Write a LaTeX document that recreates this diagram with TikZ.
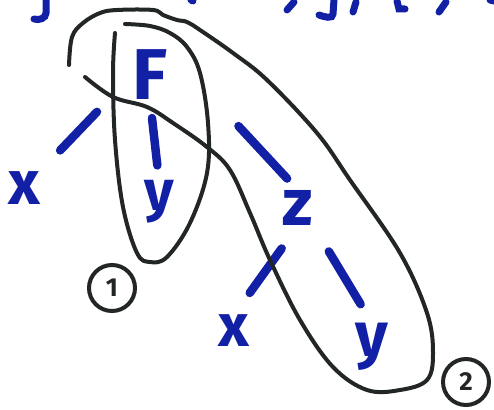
\documentclass[tikz,border=0pt]{standalone}
\usepackage{fontspec}
\setmainfont{Fira Sans}
\usepackage{xcolor}
\usepackage{tikz}
\usetikzlibrary{arrows.meta, positioning}
\definecolor{penblue}{RGB}{18,32,165}
\definecolor{inkblack}{RGB}{35,38,38}

\begin{document}
\begin{tikzpicture}[
  x=1pt, y=-1pt,
  letter/.style={text=penblue, inner sep=0pt, font=\bfseries\fontsize{#1}{#1}\selectfont},
  twig/.style={penblue, line width=8.5pt, line cap=round},
  scrap/.style={penblue, line width=7pt, line cap=round},
  lasso/.style={inkblack, line width=4pt, line cap=round, line join=round},
  tag/.style={draw=inkblack, circle, line width=4pt, minimum size=46pt, inner sep=0pt,
    text=inkblack, font=\bfseries\fontsize{26}{26}\selectfont}
]
\useasboundingbox (0,0) rectangle (494,409);

% tree
\node[letter=72] (F) at (150,75) {F};
\node[letter=57] (y1) at (159,202) {y};
\node[letter=62] (x1) at (24,188) {x};
\node[letter=66] (z) at (298,208) {z};
\node[letter=60] (x2) at (234,331) {x};
\node[letter=63] (y2) at (372,347) {y};

\draw[twig, shorten <=18pt, shorten >=15pt] (F.south) -- (y1.north);
\draw[twig, shorten <=51pt, shorten >=29pt] (F.west) -- (x1.north east);
\draw[twig, shorten <=104pt, shorten >=16pt] (F.north east) -- (z.north);
\draw[twig, shorten <=28pt, shorten >=27pt] (z.south) -- (x2.north);
\draw[twig, shorten <=30pt, shorten >=22pt] (z.south east) -- (y2.north);

% loops round the two parts
\draw[lasso] plot[smooth, tension=0.6] coordinates {(115,33) (113,73) (115,140) (123,207)
  (137,253) (150,262) (167,257) (190,223) (207,173) (208,123) (200,73) (187,47)
  (170,33) (150,26) (125,24)};
\draw[lasso] plot[smooth, tension=0.6] coordinates {(69,65) (72,37) (83,23) (100,13)
  (117,10) (153,10) (163,15) (177,20) (187,22) (200,30) (233,53) (267,80) (317,133)
  (350,180) (400,253) (427,313) (433,353) (427,380) (400,390) (367,390) (333,367)
  (300,320) (270,260) (250,213) (230,170) (207,147) (173,123) (147,107) (113,97) (85,77)};

\node[tag] (one) at (112,288) {1};
\node[tag] (two) at (466,382) {2};

% bits of the line above
\draw[scrap] (46,0) -- (46,13) to[out=-90, in=-20] (34,19);
\draw[scrap] (191,0) -- (193,1);
\draw[scrap] (294,2) -- (287,10);
\draw[scrap] (334,0) -- (333,14) to[out=-90, in=-20] (319,15);
\draw[scrap] (356,2) -- (353,12);
\draw[scrap] (397,1) -- (399,9) -- (405,9);
\draw[scrap] (446,2) -- (439,12);
\draw[scrap] (490,0) -- (494,1);
\end{tikzpicture}
\end{document}
